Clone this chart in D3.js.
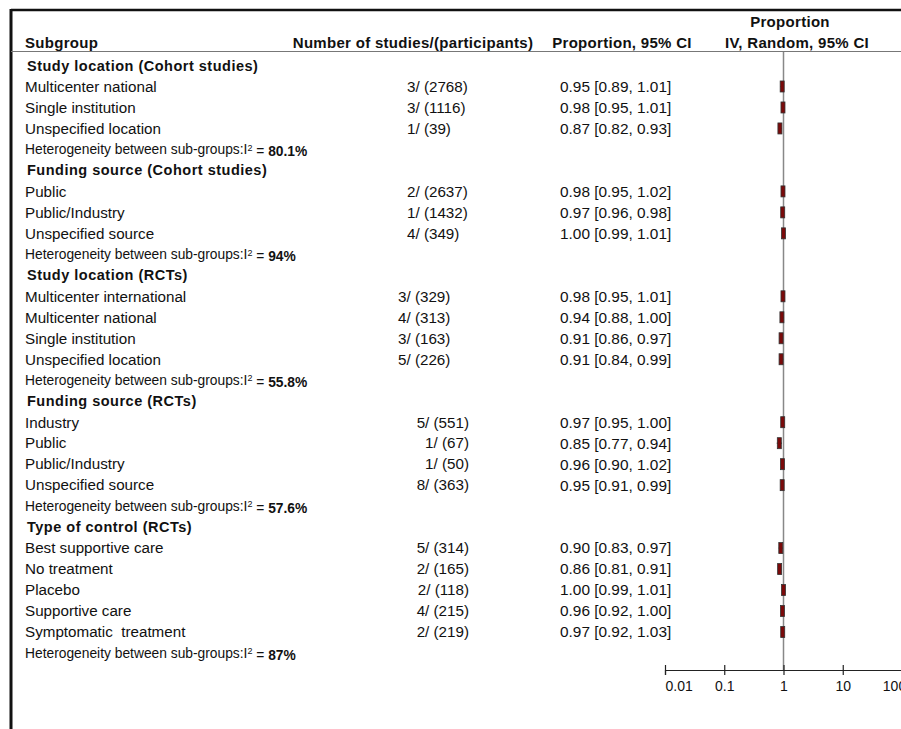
<!DOCTYPE html>
<html>
<head>
<meta charset="utf-8">
<script src="https://cdn.jsdelivr.net/npm/d3@7"></script>
<style>
  html, body { margin: 0; padding: 0; background: #fff; }
  svg { display: block; }
  text { font-family: "Liberation Sans", Arial, sans-serif; fill: #111; white-space: pre; }
</style>
</head>
<body>
<svg id="chart" width="901" height="729"></svg>
<script>
// ---------------- DATA ----------------
const groupTitles = [
  "Study location (Cohort studies)",
  "Funding source (Cohort studies)",
  "Study location (RCTs)",
  "Funding source (RCTs)",
  "Type of control (RCTs)"
];
const groupHeterogeneity = ["80.1%", "94%", "55.8%", "57.6%", "87%"];

const subgroups = [
  "Multicenter national", "Single institution", "Unspecified location",
  "Public", "Public/Industry", "Unspecified source",
  "Multicenter international", "Multicenter national", "Single institution", "Unspecified location",
  "Industry", "Public", "Public/Industry", "Unspecified source",
  "Best supportive care", "No treatment", "Placebo", "Supportive care", "Symptomatic  treatment"
];
const groupOf      = [0,0,0, 1,1,1, 2,2,2,2, 3,3,3,3, 4,4,4,4,4];
const studies      = [3,3,1, 2,1,4, 3,4,3,5, 5,1,1,8, 5,2,2,4,2];
const participants = [2768,1116,39, 2637,1432,349, 329,313,163,226, 551,67,50,363, 314,165,118,215,219];
const estimate     = [0.95,0.98,0.87, 0.98,0.97,1.00, 0.98,0.94,0.91,0.91, 0.97,0.85,0.96,0.95, 0.90,0.86,1.00,0.96,0.97];
const lower        = [0.89,0.95,0.82, 0.95,0.96,0.99, 0.95,0.88,0.86,0.84, 0.95,0.77,0.90,0.91, 0.83,0.81,0.99,0.92,0.92];
const upper        = [1.01,1.01,0.93, 1.02,0.98,1.01, 1.01,1.00,0.97,0.99, 1.00,0.94,1.02,0.99, 0.97,0.91,1.01,1.00,1.03];
const axisTicks    = [0.01, 0.1, 1, 10, 100];

// ---------------- LAYOUT ----------------
const svg = d3.select("#chart");
const W = 901, H = 729;
const numCol = [ // per group alignment of the "studies/(participants)" column
  {anchor: "start", x: 407}, {anchor: "start", x: 407}, {anchor: "start", x: 398},
  {anchor: "end", x: 469}, {anchor: "end", x: 469}
];

// build row list
const rows = [];
groupTitles.forEach((t, g) => {
  rows.push({type: "title", g, text: t});
  subgroups.forEach((s, i) => { if (groupOf[i] === g) rows.push({type: "item", g, i}); });
  rows.push({type: "het", g});
});

const y = d3.scaleLinear().domain([0, rows.length - 1]).range([65.5, 653]);
const x = d3.scaleLog().domain([0.01, 100]).range([665, 902]);
const axisY = 670;

// frame
svg.append("line").attr("x1", 11).attr("x2", W).attr("y1", 10).attr("y2", 10)
  .attr("stroke", "#111").attr("stroke-width", 2.5);
svg.append("line").attr("x1", 11).attr("x2", 11).attr("y1", 9).attr("y2", H)
  .attr("stroke", "#111").attr("stroke-width", 3);
svg.append("line").attr("x1", 11).attr("x2", W).attr("y1", 51.5).attr("y2", 51.5)
  .attr("stroke", "#777").attr("stroke-width", 1);

// headers
const hdr = svg.append("g").attr("font-weight", "bold").style("font-size", "15px").style("letter-spacing", "0.3px");
hdr.append("text").attr("x", 25).attr("y", 48).text("Subgroup");
hdr.append("text").attr("x", 413).attr("y", 48).attr("text-anchor", "middle").text("Number of studies/(participants)");
hdr.append("text").attr("x", 622).attr("y", 48).attr("text-anchor", "middle").text("Proportion, 95% CI");
hdr.append("text").attr("x", 790).attr("y", 27).attr("text-anchor", "middle").text("Proportion");
hdr.append("text").attr("x", 797).attr("y", 48).attr("text-anchor", "middle").text("IV, Random, 95% CI");

// vertical line of no effect
svg.append("line").attr("x1", x(1)).attr("x2", x(1)).attr("y1", 52).attr("y2", axisY)
  .attr("stroke", "#888").attr("stroke-width", 1.5);

// rows
const fmt = d3.format(".2f");
rows.forEach((r, k) => {
  const cy = y(k);
  if (r.type === "title") {
    svg.append("text").attr("x", 27).attr("y", cy).attr("dy", "0.35em")
      .attr("font-weight", "bold").style("font-size", "14.5px").style("letter-spacing", "0.5px").text(r.text);
  } else if (r.type === "het") {
    const t = svg.append("text").attr("x", 25).attr("y", cy).attr("dy", "0.35em").style("font-size", "13.8px");
    t.append("tspan").text("Heterogeneity between sub-groups:I");
    t.append("tspan").attr("dy", "-0.4em").style("font-size", "9px").text("2");
    t.append("tspan").attr("dy", "0.4em").text(" = ");
    t.append("tspan").attr("font-weight", "bold").text(groupHeterogeneity[r.g]);
  } else {
    const i = r.i;
    svg.append("text").attr("x", 25).attr("y", cy).attr("dy", "0.35em").style("font-size", "15.2px").text(subgroups[i]);
    const nc = numCol[r.g];
    svg.append("text").attr("x", nc.x).attr("y", cy).attr("dy", "0.35em").attr("text-anchor", nc.anchor)
      .style("font-size", "15.2px").text(studies[i] + "/ (" + participants[i] + ")");
    svg.append("text").attr("x", 560).attr("y", cy).attr("dy", "0.35em").style("font-size", "15.4px")
      .text(fmt(estimate[i]) + " [" + fmt(lower[i]) + ", " + fmt(upper[i]) + "]");
    // CI line
    svg.append("line").attr("x1", x(lower[i])).attr("x2", x(upper[i])).attr("y1", cy).attr("y2", cy)
      .attr("stroke", "#222").attr("stroke-width", 1);
    // marker
    svg.append("rect").attr("x", x(estimate[i]) - 2).attr("y", cy - 5.5).attr("width", 4).attr("height", 11)
      .attr("fill", "#7a0a0a").attr("stroke", "#333").attr("stroke-width", 0.8);
  }
});

// axis
const axis = d3.axisBottom(x).tickValues(axisTicks).tickFormat(d => String(d)).tickSizeOuter(0).tickSize(5).tickPadding(6);
const ag = svg.append("g").attr("transform", `translate(0,${axisY})`).call(axis);
ag.select(".domain").attr("stroke", "#222").attr("stroke-width", 1.2);
ag.selectAll(".tick line").attr("y1", -5).attr("y2", 5).attr("stroke", "#222").attr("stroke-width", 1.2);
ag.selectAll(".tick text").style("font-size", "14px").attr("fill", "#111")
  .style("font-family", '"Liberation Sans", Arial, sans-serif')
  .attr("text-anchor", (d, i) => i === 0 ? "start" : "middle")
  .attr("dx", (d, i) => i === axisTicks.length - 1 ? -8 : 0);
</script>
</body>
</html>
